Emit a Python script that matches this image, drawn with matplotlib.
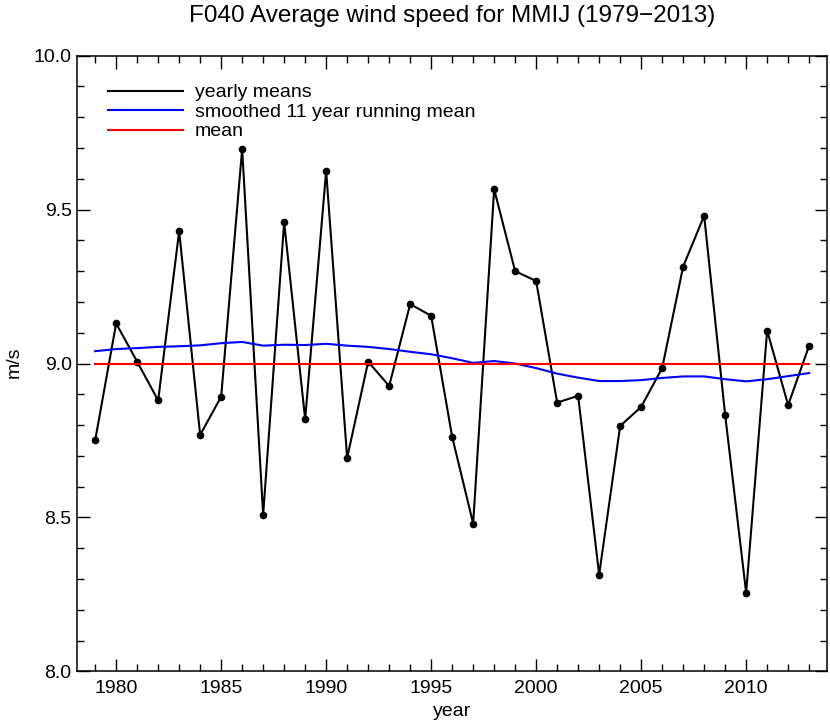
import matplotlib
matplotlib.use("Agg")
import matplotlib.pyplot as plt
from matplotlib.ticker import MultipleLocator, FormatStrFormatter

plt.rcParams['font.family'] = ['Liberation Sans', 'DejaVu Sans']

years = list(range(1979, 2014))
yearly = [8.75, 9.13, 9.006, 8.88, 9.43, 8.768, 8.892, 9.697, 8.508, 9.459,
          8.819, 9.626, 8.693, 9.006, 8.927, 9.193, 9.155, 8.762, 8.480, 9.566,
          9.30, 9.268, 8.873, 8.895, 8.314, 8.797, 8.859, 8.985, 9.315, 9.48,
          8.833, 8.255, 9.107, 8.865, 9.058]
smoothed = [9.04, 9.047, 9.05, 9.054, 9.056, 9.059, 9.066, 9.07, 9.058, 9.061,
            9.06, 9.064, 9.058, 9.054, 9.047, 9.038, 9.03, 9.017, 9.002, 9.008,
            9.0, 8.985, 8.967, 8.954, 8.943, 8.943, 8.946, 8.953, 8.958, 8.958,
            8.949, 8.942, 8.949, 8.959, 8.969]
mean_val = 9.0
labels = ['yearly means', 'smoothed 11 year running mean', 'mean']
colors = ['black', 'blue', 'red']

W, H = 830, 726
fig = plt.figure(figsize=(W / 100, H / 100), dpi=100)
L, R, T, B = 77.3, 827.0, 55.7, 671.3
ax = fig.add_axes([L / W, 1 - B / H, (R - L) / W, (B - T) / H])

ax.plot(years, yearly, color=colors[0], lw=1.5)
ax.plot(years, yearly, 'o', color='black', ms=4.5)
ax.plot(years, smoothed, color=colors[1], lw=1.5)
ax.plot([years[0], years[-1]], [mean_val, mean_val], color=colors[2], lw=1.5)

ax.set_xlim(1978.15, 2013.85)
ax.set_ylim(8.0, 10.0)
ax.xaxis.set_major_locator(MultipleLocator(5))
ax.xaxis.set_minor_locator(MultipleLocator(1))
ax.yaxis.set_major_locator(MultipleLocator(0.5))
ax.yaxis.set_minor_locator(MultipleLocator(0.1))
ax.yaxis.set_major_formatter(FormatStrFormatter('%.1f'))
ax.tick_params(which='both', direction='in', top=True, right=True, labelsize=14, width=1.0)
ax.tick_params(which='major', length=9)
ax.tick_params(which='minor', length=5)
ax.tick_params(axis='x', pad=6)
ax.tick_params(axis='y', pad=4)
for s in ax.spines.values():
    s.set_linewidth(1.1)

# legend drawn in axes coordinates
leg_rows_px = [90.7, 110.0, 129.7]
for lab, col, ypx in zip(labels, colors, leg_rows_px):
    yf = 1 - (ypx - T) / (B - T)
    x0 = (108 - L) / (R - L)
    x1 = (183 - L) / (R - L)
    xt = (195 - L) / (R - L)
    ax.plot([x0, x1], [yf, yf], color=col, lw=1.5, transform=ax.transAxes)
    ax.text(xt, yf, lab, transform=ax.transAxes, fontsize=14, va='center_baseline', ha='left')

fig.text(452 / W, 1 - 22.3 / H, 'F040 Average wind speed for MMIJ (1979\u22122013)',
         fontsize=17.5, ha='center', va='baseline')
fig.text(452 / W, 1 - 716 / H, 'year', fontsize=14, ha='center', va='baseline')
fig.text(14 / W, 1 - 362 / H, 'm/s', fontsize=14, ha='center', va='center', rotation=90)

fig.savefig('out.png', dpi=100)
